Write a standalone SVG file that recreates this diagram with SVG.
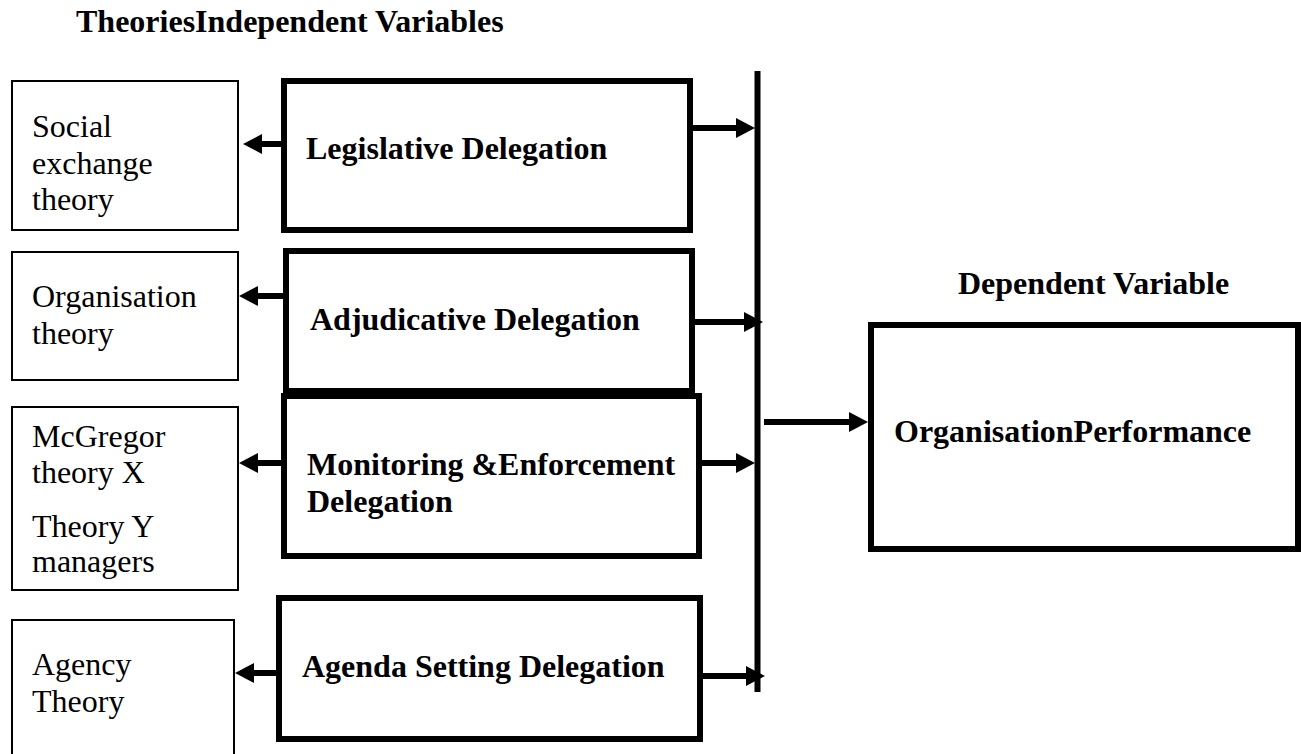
<svg xmlns="http://www.w3.org/2000/svg" width="1301" height="754" viewBox="0 0 1301 754">
<style>
  .thin { fill: #fff; stroke: #000; stroke-width: 2; }
  .thick { fill: #fff; stroke: #000; stroke-width: 6; }
  .reg { font-family: "Liberation Serif", "Times New Roman", serif; font-size: 32px; fill: #000; }
  .bold { font-family: "Liberation Serif", "Times New Roman", serif; font-size: 32px; font-weight: bold; fill: #000; }
  .conn { stroke: #000; stroke-width: 6; fill: none; }
</style>
<defs>
  <marker id="ah" markerUnits="userSpaceOnUse" markerWidth="19" markerHeight="20" viewBox="0 0 19 20" refX="7" refY="10" orient="auto">
    <path d="M0,0 L19,10 L0,20 Z" fill="#000"/>
  </marker>
</defs>
<rect width="1301" height="754" fill="#fff"/>

<text class="bold" x="76" y="32">TheoriesIndependent Variables</text>
<text class="bold" x="958" y="294">Dependent Variable</text>

<g id="social">
  <rect class="thin" x="12" y="81" width="226" height="149"/>
  <text class="reg" x="32" y="137">Social</text>
  <text class="reg" x="32" y="174">exchange</text>
  <text class="reg" x="32" y="210">theory</text>
</g>
<g id="organisation">
  <rect class="thin" x="12" y="252" width="226" height="128"/>
  <text class="reg" x="32" y="307">Organisation</text>
  <text class="reg" x="32" y="344">theory</text>
</g>
<g id="mcgregor">
  <rect class="thin" x="12" y="407" width="226" height="183"/>
  <text class="reg" x="32" y="447">McGregor</text>
  <text class="reg" x="32" y="483">theory X</text>
  <text class="reg" x="32" y="537">Theory Y</text>
  <text class="reg" x="32" y="572">managers</text>
</g>
<g id="agency">
  <rect class="thin" x="12" y="620" width="222" height="150"/>
  <text class="reg" x="32" y="675">Agency</text>
  <text class="reg" x="32" y="712">Theory</text>
</g>

<g id="legislative">
  <rect class="thick" x="284" y="81" width="406" height="149"/>
  <text class="bold" x="306" y="159">Legislative Delegation</text>
</g>
<g id="adjudicative">
  <rect class="thick" x="286" y="251" width="406" height="140"/>
  <text class="bold" x="310" y="330">Adjudicative Delegation</text>
</g>
<g id="monitoring">
  <rect class="thick" x="284" y="396" width="415" height="160"/>
  <text class="bold" x="307" y="475">Monitoring &amp;Enforcement</text>
  <text class="bold" x="307" y="512">Delegation</text>
</g>
<g id="agenda">
  <rect class="thick" x="279" y="598" width="421" height="141"/>
  <text class="bold" x="302" y="677">Agenda Setting Delegation</text>
</g>
<g id="performance">
  <rect class="thick" x="871" y="325" width="427" height="224"/>
  <text class="bold" x="894" y="442">OrganisationPerformance</text>
</g>

<g id="connectors">
  <line class="conn" x1="757.5" y1="71" x2="757.5" y2="692"/>
  <line class="conn" x1="281" y1="144" x2="255" y2="144" marker-end="url(#ah)"/>
  <line class="conn" x1="283" y1="296" x2="251" y2="296" marker-end="url(#ah)"/>
  <line class="conn" x1="281" y1="463" x2="251" y2="463" marker-end="url(#ah)"/>
  <line class="conn" x1="276" y1="673" x2="247" y2="673" marker-end="url(#ah)"/>
  <line class="conn" x1="693" y1="128" x2="743" y2="128" marker-end="url(#ah)"/>
  <line class="conn" x1="695" y1="322" x2="751" y2="322" marker-end="url(#ah)"/>
  <line class="conn" x1="702" y1="463" x2="743" y2="463" marker-end="url(#ah)"/>
  <line class="conn" x1="703" y1="676" x2="753" y2="676" marker-end="url(#ah)"/>
  <line class="conn" x1="764" y1="422" x2="856" y2="422" marker-end="url(#ah)"/>
</g>
</svg>
